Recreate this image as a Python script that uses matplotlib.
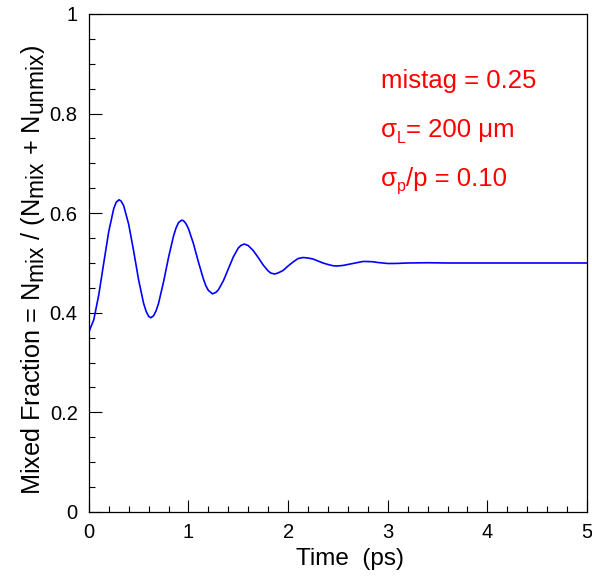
import matplotlib
matplotlib.use("Agg")
import matplotlib.pyplot as plt
import matplotlib.transforms as mtransforms
import matplotlib._mathtext as mtext
from matplotlib.ticker import MultipleLocator

plt.rcParams['font.family'] = ['Liberation Sans', 'DejaVu Sans']
plt.rcParams['mathtext.fontset'] = 'custom'
plt.rcParams['mathtext.rm'] = 'Liberation Sans'
plt.rcParams['mathtext.default'] = 'regular'
# ROOT draws subscripts nearly full size
mtext.SHRINK_FACTOR = 0.9

# Data
time_ps = [0.00, 0.05, 0.10, 0.15, 0.20, 0.25, 0.275, 0.304, 0.325, 0.35, 0.40, 0.45, 0.50,
           0.55, 0.575, 0.60, 0.622, 0.65, 0.675, 0.70, 0.75, 0.80, 0.85, 0.875, 0.90, 0.931,
           0.95, 0.975, 1.00, 1.05, 1.10, 1.15, 1.175, 1.20, 1.242, 1.275, 1.30, 1.35, 1.40,
           1.45, 1.50, 1.525, 1.559, 1.575, 1.60, 1.65, 1.70, 1.75, 1.80, 1.825, 1.86, 1.875,
           1.90, 1.95, 2.00, 2.05, 2.10, 2.151, 2.20, 2.25, 2.30, 2.35, 2.40, 2.45, 2.49,
           2.55, 2.60, 2.65, 2.70, 2.75, 2.79, 2.85, 2.90, 2.95, 3.00, 3.05, 3.10, 3.20,
           3.40, 3.60, 4.00, 4.50, 5.00]
mixed_frac = [0.361, 0.386, 0.436, 0.500, 0.563, 0.609, 0.622, 0.627, 0.624, 0.615, 0.578, 0.524, 0.466,
              0.419, 0.403, 0.393, 0.390, 0.394, 0.404, 0.419, 0.462, 0.511, 0.554, 0.570, 0.581, 0.586,
              0.585, 0.579, 0.569, 0.539, 0.502, 0.468, 0.454, 0.445, 0.438, 0.441, 0.446, 0.464, 0.488,
              0.512, 0.530, 0.535, 0.538, 0.537, 0.535, 0.525, 0.511, 0.496, 0.484, 0.480, 0.478, 0.4785,
              0.480, 0.485, 0.494, 0.502, 0.509, 0.511, 0.510, 0.508, 0.504, 0.500, 0.497, 0.4945, 0.494,
              0.495, 0.497, 0.499, 0.501, 0.503, 0.503, 0.5025, 0.501, 0.500, 0.499, 0.499, 0.4992, 0.500,
              0.5005, 0.500, 0.500, 0.500, 0.500]

x_ticks = [0, 1, 2, 3, 4, 5]
x_tick_labels = ['0', '1', '2', '3', '4', '5']
y_ticks = [0, 0.2, 0.4, 0.6, 0.8, 1.0]
y_tick_labels = ['0', '0.2', '0.4', '0.6', '0.8', '1']

# info box: (text, is_subscript) pieces per line
info_lines = [
    [("mistag = 0.25", False)],
    [("σ", False), ("L", True), ("= 200 μm", False)],
    [("σ", False), ("p", True), ("/p = 0.10", False)],
]

fig = plt.figure(figsize=(5.92, 5.78), dpi=100)
ax = fig.add_axes([0.150, 0.1142, 0.8416, 0.8616])

ax.plot(time_ps, mixed_frac, color='#0000ff', lw=1.2)

ax.set_xlim(0, 5)
ax.set_ylim(0, 1)
ax.set_xticks(x_ticks)
ax.set_xticklabels(x_tick_labels)
ax.set_yticks(y_ticks)
ax.set_yticklabels(y_tick_labels)
ax.xaxis.set_minor_locator(MultipleLocator(0.2))
ax.yaxis.set_minor_locator(MultipleLocator(0.05))
ax.tick_params(which='both', direction='in', top=False, right=False,
               labelsize=14.5, width=0.8, color='black')
ax.tick_params(which='major', length=9)
ax.tick_params(axis='x', which='major', pad=8)
ax.tick_params(axis='y', which='major', pad=8)
ax.tick_params(which='minor', length=4.5)
for s in ax.spines.values():
    s.set_linewidth(0.9)

ax.set_xlabel("Time  (ps)", fontsize=17.5)
ax.xaxis.set_label_coords(0.524, -0.072)
ax.set_ylabel(r"Mixed Fraction = N$_{mix}$ / (N$_{mix}$ + N$_{unmix}$)", fontsize=18.2)
ax.yaxis.set_label_coords(-0.084, 0.486)

# red annotation, built piece by piece so the subscript can be small
renderer = fig.canvas.get_renderer()
base_y = [0.851, 0.753, 0.655]
for line, y in zip(info_lines, base_y):
    x_off = 0.0
    for txt, is_sub in line:
        size = 11.5 if is_sub else 18.5
        dy = -4 if is_sub else 0
        tr = mtransforms.offset_copy(ax.transAxes, fig=fig, x=x_off, y=dy, units='points')
        t = ax.text(0.586, y, txt, transform=tr, color='#ff0000', fontsize=size,
                    va='baseline', ha='left')
        w = t.get_window_extent(renderer).width * 72.0 / fig.dpi
        x_off += w

fig.savefig("out.png", dpi=100)
